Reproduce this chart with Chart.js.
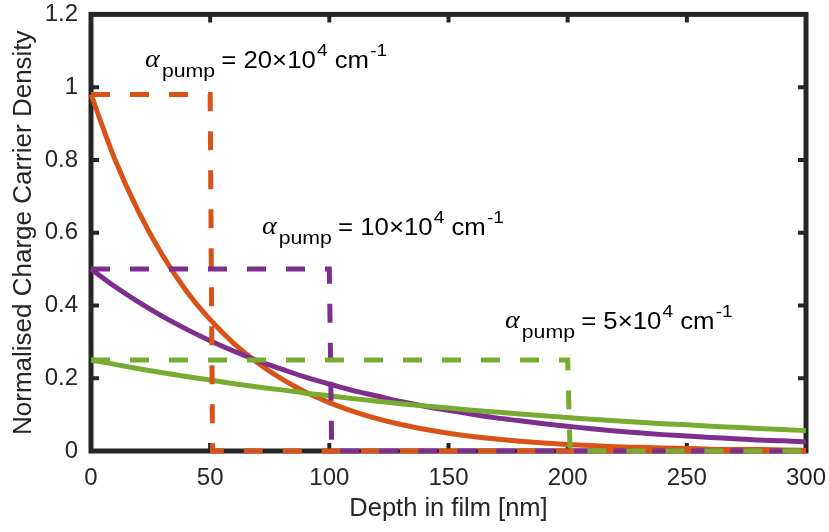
<!DOCTYPE html>
<html>
<head>
<meta charset="utf-8">
<script src="https://cdn.jsdelivr.net/npm/chart.js@4.4.1/dist/chart.umd.min.js"></script>
<style>
  body { margin: 0; background: #fff; }
</style>
</head>
<body>
<canvas id="chartDepth" width="829" height="532"></canvas>
<script>
var depth = [0, 10, 20, 30, 40, 50, 60, 70, 80, 90, 100, 110, 120, 130, 140, 150,
  160, 170, 180, 190, 200, 210, 220, 230, 240, 250, 260, 270, 280, 290, 300]

var orangeCurve = [0.98, 0.802, 0.657, 0.538, 0.44, 0.361, 0.295, 0.242, 0.198, 0.162, 0.133,
  0.109, 0.089, 0.073, 0.06, 0.049, 0.04, 0.033, 0.027, 0.022, 0.018,
  0.015, 0.012, 0.01, 0.008, 0.007, 0.005, 0.004, 0.004, 0.003, 0.002]
var purpleCurve = [0.5, 0.452, 0.409, 0.37, 0.335, 0.303, 0.274, 0.248, 0.225, 0.203, 0.184,
  0.166, 0.151, 0.136, 0.123, 0.112, 0.101, 0.091, 0.083, 0.075, 0.068,
  0.061, 0.055, 0.05, 0.045, 0.041, 0.037, 0.034, 0.03, 0.028, 0.025]
var greenCurve = [0.25, 0.238, 0.226, 0.215, 0.205, 0.195, 0.185, 0.176, 0.168, 0.159, 0.152,
  0.144, 0.137, 0.13, 0.124, 0.118, 0.112, 0.107, 0.102, 0.097, 0.092,
  0.087, 0.083, 0.079, 0.075, 0.072, 0.068, 0.065, 0.062, 0.059, 0.056]

// step profiles (dashed)
var orangeStepX = [0, 50, 51, 300]
var orangeStepY = [0.98, 0.98, 0, 0]
var purpleStepX = [0, 100, 101, 300]
var purpleStepY = [0.5, 0.5, 0, 0]
var greenStepX = [0, 200, 201, 300]
var greenStepY = [0.25, 0.25, 0, 0]

var xTicks = [0, 50, 100, 150, 200, 250, 300]
var yTicks = [0, 0.2, 0.4, 0.6, 0.8, 1, 1.2]

// annotation anchors (data units) and alpha values
var labelX = [22.7, 71.7, 173.7]
var labelY = [1.054, 0.593, 0.335]
var labelAlpha = ['20', '10', '5']

var ORANGE = '#D95319'
var PURPLE = '#7E2F8E'
var GREEN = '#77AC30'
var INK = '#262626'
var SANS = '"Liberation Sans", Arial, sans-serif'

function pairs(xs, ys) {
  return xs.map(function (x, i) { return { x: x, y: ys[i] } })
}

function solid(label, data, color, order) {
  return {
    label: label, data: pairs(depth, data), borderColor: color, borderWidth: 5,
    pointRadius: 0, cubicInterpolationMode: 'monotone', clip: false, order: order,
  }
}

function dashed(label, xs, ys, color, order) {
  return {
    label: label, data: pairs(xs, ys), borderColor: color, borderWidth: 5,
    borderDash: [19, 20], pointRadius: 0, tension: 0, clip: false, order: order,
  }
}

var framePlugin = {
  id: 'frame',
  beforeDatasetsDraw: function (chart) {
    var a = chart.chartArea, ctx = chart.ctx
    var sx = chart.scales.x, sy = chart.scales.y
    ctx.save()
    ctx.strokeStyle = INK
    ctx.lineWidth = 5
    ctx.strokeRect(a.left, a.top, a.right - a.left, a.bottom - a.top)
    ctx.lineWidth = 4
    ctx.beginPath()
    xTicks.slice(1, -1).forEach(function (v) {
      var px = sx.getPixelForValue(v)
      ctx.moveTo(px, a.bottom); ctx.lineTo(px, a.bottom - 8)
      ctx.moveTo(px, a.top); ctx.lineTo(px, a.top + 8)
    })
    yTicks.slice(1, -1).forEach(function (v) {
      var py = sy.getPixelForValue(v)
      ctx.moveTo(a.left, py); ctx.lineTo(a.left + 8, py)
      ctx.moveTo(a.right, py); ctx.lineTo(a.right - 8, py)
    })
    ctx.stroke()
    ctx.restore()
  },
}

var labelPlugin = {
  id: 'alphaLabels',
  afterDatasetsDraw: function (chart) {
    var ctx = chart.ctx
    var sx = chart.scales.x, sy = chart.scales.y
    ctx.save()
    ctx.fillStyle = '#000'
    ctx.textBaseline = 'alphabetic'
    ctx.textAlign = 'left'
    labelAlpha.forEach(function (val, i) {
      var ax = sx.getPixelForValue(labelX[i])
      var by = sy.getPixelForValue(labelY[i])
      ctx.save()
      ctx.translate(ax, by)
      ctx.scale(1.12, 1)
      ctx.font = 'italic 25px "Liberation Serif", serif'
      ctx.fillText('\u03b1', 0, -1)
      ctx.font = '19px ' + SANS
      ctx.fillText('pump', 15, 9)
      var x = 68
      ctx.font = '23px ' + SANS
      var main = '= ' + val + '\u00d710'
      ctx.fillText(main, x, 0)
      x += ctx.measureText(main).width + 1
      ctx.font = '17px ' + SANS
      ctx.fillText('4', x, -12)
      x += ctx.measureText('4').width
      ctx.font = '23px ' + SANS
      ctx.fillText(' cm', x, 0)
      x += ctx.measureText(' cm').width + 1
      ctx.font = '17px ' + SANS
      ctx.fillText('-1', x, -12)
      ctx.restore()
    })
    ctx.restore()
  },
}

function fmt(v) {
  return String(+Number(v).toFixed(1))
}

var ctx = document.getElementById('chartDepth').getContext('2d')

var chart = new Chart(ctx, {
  type: 'line',
  data: {
    datasets: [
      dashed('green step', greenStepX, greenStepY, GREEN, 0),
      dashed('purple step', purpleStepX, purpleStepY, PURPLE, 1),
      dashed('orange step', orangeStepX, orangeStepY, ORANGE, 2),
      solid('alpha 5e4', greenCurve, GREEN, 3),
      solid('alpha 10e4', purpleCurve, PURPLE, 4),
      solid('alpha 20e4', orangeCurve, ORANGE, 5),
    ],
  },
  options: {
    responsive: false,
    animation: false,
    devicePixelRatio: 1,
    layout: { padding: { top: 14, right: 23, bottom: 0, left: 0 } },
    plugins: { legend: { display: false }, tooltip: { enabled: false } },
    scales: {
      x: {
        type: 'linear', min: 0, max: 300,
        afterFit: function (s) { s.height = 81 },
        // tick marks are drawn by the frame plugin; tickLength only spaces the labels
        grid: { display: false, drawTicks: true, tickLength: 13 },
        border: { display: false },
        ticks: { stepSize: 50, padding: 0, color: INK, callback: fmt, font: { family: SANS, size: 24 } },
        title: {
          display: true, text: 'Depth in film [nm]', color: INK,
          font: { family: SANS, size: 25.5 }, padding: { top: 0, bottom: 8 },
        },
      },
      y: {
        min: 0, max: 1.2,
        afterFit: function (s) { s.width = 91 },
        grid: { display: false, drawTicks: true, tickLength: 13 },
        border: { display: false },
        ticks: { stepSize: 0.2, padding: 0, color: INK, callback: fmt, font: { family: SANS, size: 24 } },
        title: {
          display: true, text: 'Normalised Charge Carrier Density', color: INK,
          font: { family: SANS, size: 26 }, padding: { top: 8, bottom: 0 },
        },
      },
    },
  },
  plugins: [framePlugin, labelPlugin],
})
</script>
</body>
</html>
